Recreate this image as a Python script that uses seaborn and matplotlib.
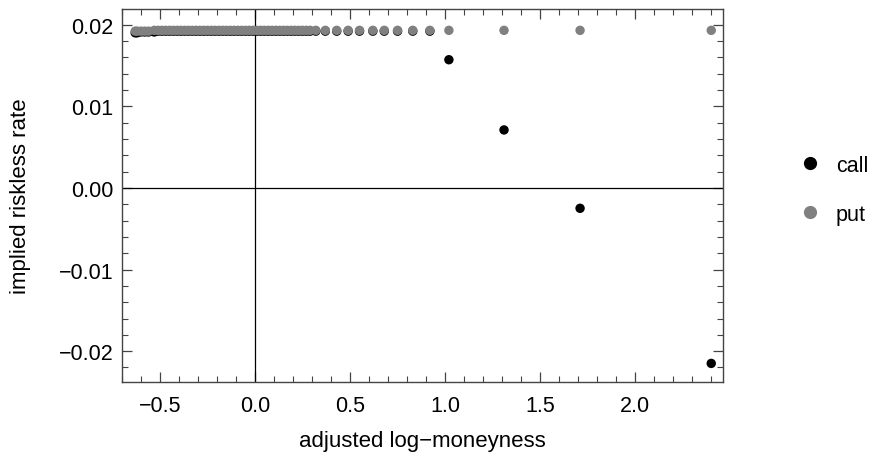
import numpy as np
import pandas as pd
import matplotlib
matplotlib.use("Agg")
import matplotlib.pyplot as plt
from matplotlib.ticker import MultipleLocator
import seaborn as sns

# adjusted log-moneyness (shared strikes for calls and puts)
moneyness = [-0.63, -0.62, -0.60, -0.58, -0.56, -0.53, -0.51, -0.49, -0.47, -0.45,
             -0.43, -0.41, -0.39, -0.37, -0.35, -0.33, -0.31, -0.29, -0.27, -0.25,
             -0.23, -0.21, -0.19, -0.17, -0.15, -0.13, -0.11, -0.09, -0.07, -0.05,
             -0.03, -0.01, 0.01, 0.03, 0.05, 0.07, 0.09, 0.11, 0.13, 0.15,
             0.17, 0.19, 0.21, 0.23, 0.25, 0.27, 0.29, 0.32, 0.37, 0.43,
             0.49, 0.55, 0.62, 0.68, 0.75, 0.83, 0.92, 1.02, 1.31, 1.71, 2.40]

call_rate = [0.0190, 0.0190, 0.0191, 0.0191, 0.0191, 0.0191, 0.0192, 0.0192, 0.0192, 0.0192,
             0.0192, 0.0192, 0.0192, 0.0192, 0.0192, 0.0192, 0.0192, 0.0192, 0.0192, 0.0192,
             0.0192, 0.0192, 0.0192, 0.0192, 0.0192, 0.0192, 0.0192, 0.0192, 0.0192, 0.0192,
             0.0192, 0.0192, 0.0192, 0.0192, 0.0192, 0.0192, 0.0192, 0.0192, 0.0192, 0.0192,
             0.0192, 0.0192, 0.0192, 0.0192, 0.0192, 0.0192, 0.0192, 0.0192, 0.0192, 0.0192,
             0.0192, 0.0192, 0.0192, 0.0192, 0.0192, 0.0192, 0.0192, 0.0157, 0.0071, -0.0025, -0.0215]

put_rate = [0.0192, 0.0192, 0.0192, 0.0192, 0.0192, 0.0193, 0.0193, 0.0193, 0.0193, 0.0193,
            0.0193, 0.0193, 0.0193, 0.0193, 0.0193, 0.0193, 0.0193, 0.0193, 0.0193, 0.0193,
            0.0193, 0.0193, 0.0193, 0.0193, 0.0193, 0.0193, 0.0193, 0.0193, 0.0193, 0.0193,
            0.0193, 0.0193, 0.0193, 0.0193, 0.0193, 0.0193, 0.0193, 0.0193, 0.0193, 0.0193,
            0.0193, 0.0193, 0.0193, 0.0193, 0.0193, 0.0193, 0.0193, 0.0193, 0.0193, 0.0193,
            0.0193, 0.0193, 0.0193, 0.0193, 0.0193, 0.0193, 0.0193, 0.0193, 0.0193, 0.0193, 0.0193]

df = pd.concat([
    pd.DataFrame({"x": moneyness, "r": call_rate, "type": "call"}),
    pd.DataFrame({"x": moneyness, "r": put_rate, "type": "put"}),
])

sns.set_style("ticks")
plt.rcParams["font.family"] = ["Liberation Sans", "DejaVu Sans"]
plt.rcParams["axes.unicode_minus"] = True
plt.rcParams["text.color"] = "black"
plt.rcParams["axes.labelcolor"] = "black"
plt.rcParams["xtick.labelcolor"] = "black"
plt.rcParams["ytick.labelcolor"] = "black"

fig = plt.figure(figsize=(8.77, 4.6), dpi=100)
ax = fig.add_axes([0.139, 0.167, 0.685, 0.811])

ax.axhline(0, color="black", lw=0.9, zorder=1)
ax.axvline(0, color="black", lw=0.9, zorder=1)

sns.scatterplot(data=df, x="x", y="r", hue="type", palette={"call": "black", "put": "#808080"},
                s=46, linewidth=0, ax=ax, zorder=3)

ax.set_xlim(-0.70, 2.46)
ax.set_ylim(-0.0238, 0.0219)
ax.xaxis.set_major_locator(MultipleLocator(0.5))
ax.xaxis.set_minor_locator(MultipleLocator(0.1))
ax.yaxis.set_major_locator(MultipleLocator(0.01))
ax.yaxis.set_minor_locator(MultipleLocator(0.002))
ax.xaxis.set_major_formatter(plt.FuncFormatter(lambda v, p: f"{v:.1f}".replace("-", "\u2212")))
ax.yaxis.set_major_formatter(plt.FuncFormatter(lambda v, p: f"{v:.2f}".replace("-", "\u2212")))

ax.tick_params(which="both", direction="in", top=True, right=True, labelsize=15.5,
               color="#444444", labelcolor="black")
ax.tick_params(which="major", length=7, width=0.9)
ax.tick_params(which="minor", length=4, width=0.8)
ax.tick_params(axis="x", pad=9)
ax.tick_params(axis="y", pad=6)
for sp in ax.spines.values():
    sp.set_color("#444444")
    sp.set_linewidth(1.0)

ax.set_xlabel("adjusted log\u2212moneyness", fontsize=16, labelpad=10, color="black")
ax.set_ylabel("implied riskless rate", fontsize=16, labelpad=20, color="black")

leg = ax.legend(loc="center left", bbox_to_anchor=(0.889, 0.585), bbox_transform=fig.transFigure,
                frameon=False, fontsize=15.5, handlelength=1.0, handletextpad=0.7,
                labelspacing=1.3, markerscale=1.4, title=None)
for t in leg.get_texts():
    t.set_color("black")

fig.savefig("out.png", dpi=100)
